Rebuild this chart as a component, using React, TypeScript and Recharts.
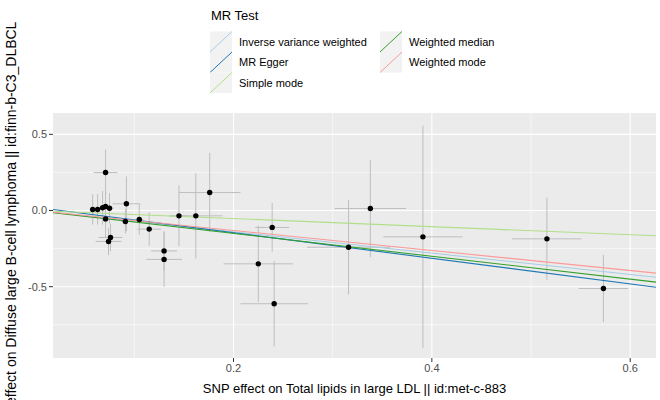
import { ComposedChart, Scatter, Line, XAxis, YAxis, CartesianGrid, ErrorBar } from 'recharts'

// SNP estimates (exposure / outcome) and their standard errors
const snpX = [0.058, 0.063, 0.068, 0.071, 0.075, 0.071, 0.071, 0.074, 0.076, 0.092, 0.091, 0.105, 0.115, 0.13, 0.13, 0.145, 0.162, 0.176, 0.225, 0.239, 0.241, 0.316, 0.338, 0.391, 0.516, 0.573]
const snpY = [0.007, 0.007, 0.018, 0.026, 0.015, 0.249, -0.055, -0.203, -0.177, 0.044, -0.072, -0.059, -0.122, -0.265, -0.321, -0.035, -0.035, 0.118, -0.35, -0.111, -0.612, -0.241, 0.013, -0.173, -0.186, -0.512]
const seX = [0.003, 0.003, 0.004, 0.004, 0.004, 0.012, 0.004, 0.013, 0.012, 0.014, 0.004, 0.004, 0.012, 0.013, 0.018, 0.008, 0.027, 0.031, 0.035, 0.017, 0.034, 0.042, 0.036, 0.04, 0.035, 0.025]
const seY = [0.1, 0.1, 0.11, 0.11, 0.1, 0.15, 0.12, 0.09, 0.09, 0.18, 0.08, 0.1, 0.11, 0.13, 0.18, 0.2, 0.28, 0.26, 0.25, 0.16, 0.28, 0.31, 0.32, 0.73, 0.27, 0.22]

const methods = ['Inverse variance weighted', 'MR Egger', 'Simple mode', 'Weighted median', 'Weighted mode']
const methodColors = ['#a6cee3', '#1f78b4', '#b2df8a', '#33a02c', '#fb9a99']
const intercepts = [0, 0.022, 0, 0, 0]
const slopes = [-0.699, -0.839, -0.265, -0.751, -0.656]

const xDomain: [number, number] = [0.018, 0.626]
const yDomain: [number, number] = [-0.968, 0.64]
const xTicks = [0.2, 0.4, 0.6]
const yTicks = [-0.5, 0, 0.5]
const xMinor = [0.1, 0.3, 0.5]
const yMinor = [-0.75, -0.25, 0.25]

const points = snpX.map((x, i) => ({ x, y: snpY[i], ex: seX[i], ey: seY[i] }))
const lines = methods.map((m, i) => ({
  name: m,
  color: methodColors[i],
  data: xDomain.map(x => ({ x, y: intercepts[i] + slopes[i] * x })),
}))

const fmt = (v: number) => v.toFixed(1)

const YTitle = ({ viewBox }: any) => {
  const cx = 11
  const cy = viewBox.y + viewBox.height / 2 - 6
  return (
    <text x={cx} y={cy} transform={`rotate(-90 ${cx} ${cy})`} textAnchor="middle" dominantBaseline="central" fontSize={14} fill="#000">
      SNP effect on Diffuse large B-cell lymphoma || id:finn-b-C3_DLBCL
    </text>
  )
}

function LegendBox() {
  const cols = [210, 380]
  const rowTop = [31.5, 52, 72.5]
  return (
    <svg width={660} height={100} style={{ position: 'absolute', left: 0, top: 0 }}>
      <text x={211} y={20} fontSize={13} fill="#000">MR Test</text>
      {methods.map((m, i) => {
        const col = i < 3 ? 0 : 1
        const row = i < 3 ? i : i - 3
        const x = cols[col]
        const y = rowTop[row]
        return (
          <g key={m}>
            <rect x={x} y={y} width={22} height={20.5} fill="#F2F2F2" />
            <line x1={x} y1={y + 20.5} x2={x + 22} y2={y} stroke={methodColors[i]} strokeWidth={1} />
            <text x={x + 29} y={y + 14} fontSize={11} fill="#000">{m}</text>
          </g>
        )
      })}
    </svg>
  )
}

export default function App() {
  return (
    <div style={{ position: 'absolute', left: 0, top: 0, width: 660, height: 400, background: '#fff', fontFamily: '"Liberation Sans", Arial, sans-serif' }}>
      <LegendBox />
      <div style={{ position: 'absolute', left: 0, top: 0 }}>
        <ComposedChart width={660} height={400} margin={{ top: 113, right: 4, bottom: 0, left: 0 }}>
          <CartesianGrid fill="#EBEBEB" stroke="#fff" strokeWidth={0.55} horizontalValues={yMinor} verticalValues={xMinor} />
          <CartesianGrid stroke="#fff" strokeWidth={1.1} horizontalValues={yTicks} verticalValues={xTicks} />
          <XAxis
            type="number"
            dataKey="x"
            domain={xDomain}
            ticks={xTicks}
            allowDataOverflow
            tickFormatter={fmt}
            axisLine={false}
            tickLine={{ stroke: '#333' }}
            tickSize={4}
            tickMargin={2}
            height={42}
            tick={{ fill: '#4D4D4D', fontSize: 11 }}
            label={{ value: 'SNP effect on Total lipids in large LDL || id:met-c-883', position: 'insideBottom', offset: 7, fontSize: 13, fill: '#000' }}
          />
          <YAxis
            type="number"
            dataKey="y"
            domain={yDomain}
            ticks={yTicks}
            allowDataOverflow
            tickFormatter={fmt}
            axisLine={false}
            tickLine={{ stroke: '#333' }}
            tickSize={4}
            tickMargin={2}
            width={53}
            tick={{ fill: '#4D4D4D', fontSize: 11 }}
            label={{ content: YTitle }}
          />
          <Scatter
            data={points}
            dataKey="y"
            isAnimationActive={false}
            shape={(p: any) => <circle cx={p.cx} cy={p.cy} r={2.7} fill="#000" />}
          >
            <ErrorBar dataKey="ey" direction="y" width={0} stroke="#BEBEBE" strokeWidth={1} />
            <ErrorBar dataKey="ex" direction="x" width={0} stroke="#BEBEBE" strokeWidth={1} />
          </Scatter>
          {lines.map(l => (
            <Line
              key={l.name}
              data={l.data}
              dataKey="y"
              type="linear"
              stroke={l.color}
              strokeWidth={1.1}
              dot={false}
              activeDot={false}
              isAnimationActive={false}
            />
          ))}
        </ComposedChart>
      </div>
    </div>
  )
}
